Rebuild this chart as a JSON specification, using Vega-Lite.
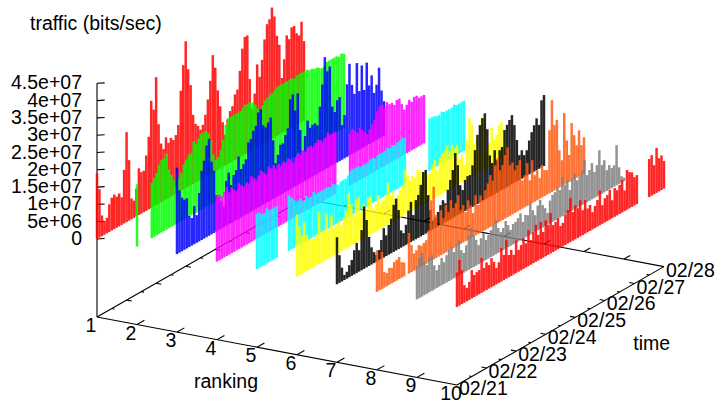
{"$schema":"https://vega.github.io/schema/vega-lite/v6.json","width":715,"height":402,"padding":0,"autosize":"none","background":"white","view":{"stroke":null},"config":{"axis":{"domain":false},"text":{"font":"Liberation Sans","fontSize":19.5,"color":"#000"}},
"datasets":{
"segs":[{"r":1,"t":0,"m":-22.54,"r2":10,"t2":0,"m2":-22.54},{"r":10,"t":0,"m":-22.54,"r2":10,"t2":168,"m2":-22.54},{"r":1,"t":0,"m":-22.54,"r2":1,"t2":168,"m2":-22.54},{"r":1,"t":168,"m":-22.54,"r2":10,"t2":168,"m2":-22.54},{"r":1,"t":0,"m":-22.54,"r2":1,"t2":0,"m2":45},
{"r":1,"t":0,"m":0,"r2":1.13,"t2":2,"m2":0},{"r":1,"t":0,"m":5,"r2":1.13,"t2":2,"m2":5},{"r":1,"t":0,"m":10,"r2":1.13,"t2":2,"m2":10},{"r":1,"t":0,"m":15,"r2":1.13,"t2":2,"m2":15},{"r":1,"t":0,"m":20,"r2":1.13,"t2":2,"m2":20},{"r":1,"t":0,"m":25,"r2":1.13,"t2":2,"m2":25},{"r":1,"t":0,"m":30,"r2":1.13,"t2":2,"m2":30},{"r":1,"t":0,"m":35,"r2":1.13,"t2":2,"m2":35},{"r":1,"t":0,"m":40,"r2":1.13,"t2":2,"m2":40},{"r":1,"t":0,"m":45,"r2":1.13,"t2":2,"m2":45},
{"r":2,"t":0,"m":-22.54,"r2":2,"t2":6,"m2":-22.54},{"r":3,"t":0,"m":-22.54,"r2":3,"t2":6,"m2":-22.54},{"r":4,"t":0,"m":-22.54,"r2":4,"t2":6,"m2":-22.54},{"r":5,"t":0,"m":-22.54,"r2":5,"t2":6,"m2":-22.54},{"r":6,"t":0,"m":-22.54,"r2":6,"t2":6,"m2":-22.54},{"r":7,"t":0,"m":-22.54,"r2":7,"t2":6,"m2":-22.54},{"r":8,"t":0,"m":-22.54,"r2":8,"t2":6,"m2":-22.54},{"r":9,"t":0,"m":-22.54,"r2":9,"t2":6,"m2":-22.54},
{"r":2,"t":168,"m":-22.54,"r2":2,"t2":173,"m2":-22.54},{"r":3,"t":168,"m":-22.54,"r2":3,"t2":173,"m2":-22.54},{"r":4,"t":168,"m":-22.54,"r2":4,"t2":173,"m2":-22.54},{"r":5,"t":168,"m":-22.54,"r2":5,"t2":173,"m2":-22.54},{"r":6,"t":168,"m":-22.54,"r2":6,"t2":173,"m2":-22.54},{"r":7,"t":168,"m":-22.54,"r2":7,"t2":173,"m2":-22.54},{"r":8,"t":168,"m":-22.54,"r2":8,"t2":173,"m2":-22.54},{"r":9,"t":168,"m":-22.54,"r2":9,"t2":173,"m2":-22.54},
{"r":10,"t":24,"m":-22.54,"r2":9.87,"t2":24,"m2":-22.54},{"r":10,"t":48,"m":-22.54,"r2":9.87,"t2":48,"m2":-22.54},{"r":10,"t":72,"m":-22.54,"r2":9.87,"t2":72,"m2":-22.54},{"r":10,"t":96,"m":-22.54,"r2":9.87,"t2":96,"m2":-22.54},{"r":10,"t":120,"m":-22.54,"r2":9.87,"t2":120,"m2":-22.54},{"r":10,"t":144,"m":-22.54,"r2":9.87,"t2":144,"m2":-22.54},
{"r":1,"t":24,"m":-22.54,"r2":1.13,"t2":24,"m2":-22.54},{"r":1,"t":48,"m":-22.54,"r2":1.13,"t2":48,"m2":-22.54},{"r":1,"t":72,"m":-22.54,"r2":1.13,"t2":72,"m2":-22.54},{"r":1,"t":96,"m":-22.54,"r2":1.13,"t2":96,"m2":-22.54},{"r":1,"t":120,"m":-22.54,"r2":1.13,"t2":120,"m2":-22.54},{"r":1,"t":144,"m":-22.54,"r2":1.13,"t2":144,"m2":-22.54},
{"r":10,"t":12,"m":-22.54,"r2":9.935,"t2":12,"m2":-22.54},{"r":10,"t":36,"m":-22.54,"r2":9.935,"t2":36,"m2":-22.54},{"r":10,"t":60,"m":-22.54,"r2":9.935,"t2":60,"m2":-22.54},{"r":10,"t":84,"m":-22.54,"r2":9.935,"t2":84,"m2":-22.54},{"r":10,"t":108,"m":-22.54,"r2":9.935,"t2":108,"m2":-22.54},{"r":10,"t":132,"m":-22.54,"r2":9.935,"t2":132,"m2":-22.54},{"r":10,"t":156,"m":-22.54,"r2":9.935,"t2":156,"m2":-22.54},
{"r":1,"t":12,"m":-22.54,"r2":1.065,"t2":12,"m2":-22.54},{"r":1,"t":36,"m":-22.54,"r2":1.065,"t2":36,"m2":-22.54},{"r":1,"t":60,"m":-22.54,"r2":1.065,"t2":60,"m2":-22.54},{"r":1,"t":84,"m":-22.54,"r2":1.065,"t2":84,"m2":-22.54},{"r":1,"t":108,"m":-22.54,"r2":1.065,"t2":108,"m2":-22.54},{"r":1,"t":132,"m":-22.54,"r2":1.065,"t2":132,"m2":-22.54},{"r":1,"t":156,"m":-22.54,"r2":1.065,"t2":156,"m2":-22.54}],
"zlabels":[{"m":0,"label":"0"},{"m":5,"label":"5e+06"},{"m":10,"label":"1e+07"},{"m":15,"label":"1.5e+07"},{"m":20,"label":"2e+07"},{"m":25,"label":"2.5e+07"},{"m":30,"label":"3e+07"},{"m":35,"label":"3.5e+07"},{"m":40,"label":"4e+07"},{"m":45,"label":"4.5e+07"}],
"rlabels":[{"r":1,"label":"1"},{"r":2,"label":"2"},{"r":3,"label":"3"},{"r":4,"label":"4"},{"r":5,"label":"5"},{"r":6,"label":"6"},{"r":7,"label":"7"},{"r":8,"label":"8"},{"r":9,"label":"9"},{"r":10,"label":"10"}],
"tlabels":[{"t":0,"label":"02/21"},{"t":24,"label":"02/22"},{"t":48,"label":"02/23"},{"t":72,"label":"02/24"},{"t":96,"label":"02/25"},{"t":120,"label":"02/26"},{"t":144,"label":"02/27"},{"t":168,"label":"02/28"}],
"titles":[{"r":4.225,"t":0,"m":-34.2,"label":"ranking"},{"r":10,"t":158,"m":-42.9,"label":"time"}],
"bars":[
{"r":1,"t":0,"m":19},{"r":1,"t":2,"m":14},{"r":1,"t":4,"m":6},{"r":1,"t":6,"m":4},{"r":1,"t":8,"m":4.5},{"r":1,"t":10,"m":8},{"r":1,"t":12,"m":9.5},{"r":1,"t":14,"m":10},{"r":1,"t":16,"m":9},{"r":1,"t":18,"m":9.5},{"r":1,"t":20,"m":8},{"r":1,"t":22,"m":15.5},{"r":1,"t":24,"m":26},{"r":1,"t":26,"m":17.5},{"r":1,"t":28,"m":6},{"r":1,"t":30,"m":5},{"r":1,"t":32,"m":8},{"r":1,"t":34,"m":13.5},{"r":1,"t":36,"m":12},{"r":1,"t":38,"m":12},{"r":1,"t":40,"m":16},{"r":1,"t":42,"m":21},{"r":1,"t":44,"m":31},{"r":1,"t":46,"m":28},{"r":1,"t":48,"m":37},{"r":1,"t":50,"m":23},{"r":1,"t":52,"m":17},{"r":1,"t":54,"m":15},{"r":1,"t":56,"m":18},{"r":1,"t":58,"m":16},{"r":1,"t":60,"m":17},{"r":1,"t":62,"m":16},{"r":1,"t":64,"m":17},{"r":1,"t":66,"m":19.5},{"r":1,"t":68,"m":29},{"r":1,"t":70,"m":36},{"r":1,"t":72,"m":42.5},{"r":1,"t":74,"m":34},{"r":1,"t":76,"m":29},{"r":1,"t":78,"m":20},{"r":1,"t":80,"m":17},{"r":1,"t":82,"m":16},{"r":1,"t":84,"m":14.5},{"r":1,"t":86,"m":15.5},{"r":1,"t":88,"m":18},{"r":1,"t":90,"m":22},{"r":1,"t":92,"m":27},{"r":1,"t":94,"m":34},{"r":1,"t":96,"m":30},{"r":1,"t":98,"m":23},{"r":1,"t":100,"m":18},{"r":1,"t":102,"m":13},{"r":1,"t":104,"m":9},{"r":1,"t":106,"m":13},{"r":1,"t":108,"m":15},{"r":1,"t":110,"m":16},{"r":1,"t":112,"m":19},{"r":1,"t":114,"m":20},{"r":1,"t":116,"m":25},{"r":1,"t":118,"m":31},{"r":1,"t":120,"m":34},{"r":1,"t":122,"m":34},{"r":1,"t":124,"m":21},{"r":1,"t":126,"m":12},{"r":1,"t":128,"m":16},{"r":1,"t":130,"m":24},{"r":1,"t":132,"m":20},{"r":1,"t":134,"m":24.5},{"r":1,"t":136,"m":30},{"r":1,"t":138,"m":34},{"r":1,"t":140,"m":35},{"r":1,"t":142,"m":38},{"r":1,"t":144,"m":35},{"r":1,"t":146,"m":29},{"r":1,"t":148,"m":26},{"r":1,"t":150,"m":16},{"r":1,"t":152,"m":21},{"r":1,"t":154,"m":27.5},{"r":1,"t":156,"m":26},{"r":1,"t":158,"m":29},{"r":1,"t":160,"m":29},{"r":1,"t":162,"m":26.5},{"r":1,"t":164,"m":25.5},{"r":1,"t":166,"m":29},{"r":1,"t":168,"m":23},
{"r":2,"t":0,"m":18},{"r":2,"t":12,"m":16},{"r":2,"t":14,"m":17},{"r":2,"t":16,"m":18},{"r":2,"t":18,"m":20},{"r":2,"t":20,"m":21},{"r":2,"t":22,"m":21},{"r":2,"t":24,"m":22},{"r":2,"t":26,"m":17},{"r":2,"t":28,"m":15},{"r":2,"t":30,"m":13},{"r":2,"t":32,"m":11},{"r":2,"t":34,"m":13},{"r":2,"t":36,"m":14},{"r":2,"t":38,"m":16},{"r":2,"t":40,"m":17},{"r":2,"t":42,"m":18},{"r":2,"t":44,"m":18},{"r":2,"t":46,"m":21},{"r":2,"t":48,"m":20},{"r":2,"t":50,"m":21},{"r":2,"t":52,"m":22},{"r":2,"t":54,"m":22},{"r":2,"t":56,"m":22},{"r":2,"t":58,"m":21},{"r":2,"t":60,"m":18.5},{"r":2,"t":62,"m":14},{"r":2,"t":64,"m":12},{"r":2,"t":66,"m":12.5},{"r":2,"t":68,"m":14},{"r":2,"t":70,"m":16.5},{"r":2,"t":72,"m":20.5},{"r":2,"t":74,"m":22},{"r":2,"t":76,"m":22},{"r":2,"t":78,"m":22},{"r":2,"t":80,"m":22},{"r":2,"t":82,"m":22},{"r":2,"t":84,"m":22},{"r":2,"t":86,"m":22.5},{"r":2,"t":88,"m":23},{"r":2,"t":90,"m":23},{"r":2,"t":92,"m":23},{"r":2,"t":94,"m":22.5},{"r":2,"t":96,"m":21.5},{"r":2,"t":98,"m":20},{"r":2,"t":100,"m":19},{"r":2,"t":102,"m":20},{"r":2,"t":104,"m":21},{"r":2,"t":106,"m":21.5},{"r":2,"t":108,"m":22},{"r":2,"t":110,"m":22},{"r":2,"t":112,"m":22.5},{"r":2,"t":114,"m":23},{"r":2,"t":116,"m":23},{"r":2,"t":118,"m":23},{"r":2,"t":120,"m":23},{"r":2,"t":122,"m":23},{"r":2,"t":124,"m":23},{"r":2,"t":126,"m":23},{"r":2,"t":128,"m":22.5},{"r":2,"t":130,"m":23},{"r":2,"t":132,"m":23},{"r":2,"t":134,"m":23},{"r":2,"t":136,"m":23},{"r":2,"t":138,"m":23},{"r":2,"t":140,"m":22.5},{"r":2,"t":142,"m":22.5},{"r":2,"t":144,"m":22},{"r":2,"t":146,"m":22},{"r":2,"t":148,"m":21.5},{"r":2,"t":150,"m":21},{"r":2,"t":152,"m":21},{"r":2,"t":154,"m":22},{"r":2,"t":156,"m":22},{"r":2,"t":158,"m":22},{"r":2,"t":160,"m":22},{"r":2,"t":162,"m":22},{"r":2,"t":164,"m":21.5},{"r":2,"t":166,"m":22},{"r":2,"t":168,"m":21.5},
{"r":3,"t":0,"m":25},{"r":3,"t":2,"m":18},{"r":3,"t":4,"m":15.5},{"r":3,"t":6,"m":14.5},{"r":3,"t":8,"m":14.5},{"r":3,"t":10,"m":9},{"r":3,"t":12,"m":8},{"r":3,"t":14,"m":11},{"r":3,"t":16,"m":8},{"r":3,"t":18,"m":14},{"r":3,"t":20,"m":20},{"r":3,"t":22,"m":22.5},{"r":3,"t":24,"m":26.5},{"r":3,"t":26,"m":28},{"r":3,"t":28,"m":21},{"r":3,"t":30,"m":18},{"r":3,"t":32,"m":10.5},{"r":3,"t":34,"m":9.5},{"r":3,"t":36,"m":8},{"r":3,"t":38,"m":6},{"r":3,"t":40,"m":13},{"r":3,"t":42,"m":15},{"r":3,"t":44,"m":11},{"r":3,"t":46,"m":13.5},{"r":3,"t":48,"m":14.5},{"r":3,"t":50,"m":18},{"r":3,"t":52,"m":14},{"r":3,"t":54,"m":15},{"r":3,"t":56,"m":16},{"r":3,"t":58,"m":20.5},{"r":3,"t":60,"m":21},{"r":3,"t":62,"m":23},{"r":3,"t":64,"m":24},{"r":3,"t":66,"m":27.5},{"r":3,"t":68,"m":28},{"r":3,"t":70,"m":23},{"r":3,"t":72,"m":22},{"r":3,"t":74,"m":23},{"r":3,"t":76,"m":24},{"r":3,"t":78,"m":17},{"r":3,"t":80,"m":10},{"r":3,"t":82,"m":12},{"r":3,"t":84,"m":14.5},{"r":3,"t":86,"m":14.5},{"r":3,"t":88,"m":16.5},{"r":3,"t":90,"m":18},{"r":3,"t":92,"m":26},{"r":3,"t":94,"m":27},{"r":3,"t":96,"m":22},{"r":3,"t":98,"m":26.5},{"r":3,"t":100,"m":15.5},{"r":3,"t":102,"m":9},{"r":3,"t":104,"m":13},{"r":3,"t":106,"m":17},{"r":3,"t":108,"m":14.5},{"r":3,"t":110,"m":15},{"r":3,"t":112,"m":15},{"r":3,"t":114,"m":14},{"r":3,"t":116,"m":19},{"r":3,"t":118,"m":25},{"r":3,"t":120,"m":32.5},{"r":3,"t":122,"m":28},{"r":3,"t":124,"m":29},{"r":3,"t":126,"m":17},{"r":3,"t":128,"m":15},{"r":3,"t":130,"m":18},{"r":3,"t":132,"m":18.5},{"r":3,"t":134,"m":10},{"r":3,"t":136,"m":12.5},{"r":3,"t":138,"m":21},{"r":3,"t":140,"m":26.5},{"r":3,"t":142,"m":20},{"r":3,"t":144,"m":17},{"r":3,"t":146,"m":25.5},{"r":3,"t":148,"m":17},{"r":3,"t":150,"m":24},{"r":3,"t":152,"m":16.5},{"r":3,"t":154,"m":24},{"r":3,"t":156,"m":17},{"r":3,"t":158,"m":19.5},{"r":3,"t":160,"m":14},{"r":3,"t":162,"m":16},{"r":3,"t":164,"m":20.5},{"r":3,"t":166,"m":13.5},{"r":3,"t":168,"m":10},
{"r":4,"t":0,"m":19},{"r":4,"t":2,"m":19},{"r":4,"t":4,"m":18},{"r":4,"t":6,"m":19},{"r":4,"t":8,"m":20},{"r":4,"t":10,"m":18},{"r":4,"t":12,"m":19},{"r":4,"t":14,"m":18},{"r":4,"t":16,"m":17},{"r":4,"t":18,"m":19},{"r":4,"t":20,"m":18},{"r":4,"t":22,"m":17},{"r":4,"t":24,"m":18},{"r":4,"t":26,"m":17},{"r":4,"t":28,"m":19},{"r":4,"t":30,"m":18},{"r":4,"t":32,"m":17},{"r":4,"t":34,"m":18},{"r":4,"t":36,"m":19},{"r":4,"t":38,"m":18},{"r":4,"t":40,"m":17},{"r":4,"t":42,"m":19},{"r":4,"t":44,"m":18},{"r":4,"t":46,"m":18.5},{"r":4,"t":48,"m":17},{"r":4,"t":50,"m":18},{"r":4,"t":52,"m":17},{"r":4,"t":54,"m":18},{"r":4,"t":56,"m":17},{"r":4,"t":58,"m":18},{"r":4,"t":60,"m":17},{"r":4,"t":62,"m":16},{"r":4,"t":64,"m":17},{"r":4,"t":66,"m":18},{"r":4,"t":68,"m":17},{"r":4,"t":70,"m":18},{"r":4,"t":72,"m":17},{"r":4,"t":74,"m":18},{"r":4,"t":76,"m":18},{"r":4,"t":78,"m":17},{"r":4,"t":80,"m":18},{"r":4,"t":82,"m":18.5},{"r":4,"t":84,"m":18},{"r":4,"t":86,"m":17},{"r":4,"t":88,"m":18},{"r":4,"t":90,"m":19},{"r":4,"t":92,"m":18},{"r":4,"t":94,"m":18},{"r":4,"t":96,"m":18},{"r":4,"t":108,"m":15},{"r":4,"t":110,"m":16},{"r":4,"t":112,"m":15},{"r":4,"t":114,"m":14},{"r":4,"t":116,"m":15},{"r":4,"t":118,"m":14},{"r":4,"t":120,"m":13},{"r":4,"t":122,"m":12},{"r":4,"t":124,"m":13},{"r":4,"t":126,"m":14},{"r":4,"t":128,"m":15},{"r":4,"t":130,"m":17},{"r":4,"t":132,"m":18},{"r":4,"t":134,"m":18},{"r":4,"t":136,"m":17},{"r":4,"t":138,"m":18},{"r":4,"t":140,"m":17},{"r":4,"t":142,"m":17},{"r":4,"t":144,"m":16},{"r":4,"t":146,"m":17},{"r":4,"t":148,"m":17},{"r":4,"t":150,"m":15},{"r":4,"t":152,"m":13},{"r":4,"t":154,"m":14},{"r":4,"t":156,"m":15},{"r":4,"t":158,"m":14},{"r":4,"t":160,"m":15},{"r":4,"t":162,"m":15},{"r":4,"t":164,"m":14},{"r":4,"t":166,"m":14},{"r":4,"t":168,"m":14},
{"r":5,"t":0,"m":16},{"r":5,"t":2,"m":16},{"r":5,"t":4,"m":15},{"r":5,"t":6,"m":15},{"r":5,"t":8,"m":16},{"r":5,"t":10,"m":15},{"r":5,"t":12,"m":15},{"r":5,"t":14,"m":15},{"r":5,"t":16,"m":15},{"r":5,"t":26,"m":16},{"r":5,"t":28,"m":15},{"r":5,"t":30,"m":14},{"r":5,"t":32,"m":13},{"r":5,"t":34,"m":13},{"r":5,"t":36,"m":13},{"r":5,"t":38,"m":12},{"r":5,"t":40,"m":13},{"r":5,"t":42,"m":12},{"r":5,"t":44,"m":12},{"r":5,"t":46,"m":13},{"r":5,"t":48,"m":12},{"r":5,"t":50,"m":12},{"r":5,"t":52,"m":12},{"r":5,"t":54,"m":12},{"r":5,"t":56,"m":12},{"r":5,"t":58,"m":12},{"r":5,"t":60,"m":11.5},{"r":5,"t":62,"m":12},{"r":5,"t":64,"m":11.5},{"r":5,"t":66,"m":11},{"r":5,"t":68,"m":11.5},{"r":5,"t":70,"m":11.5},{"r":5,"t":72,"m":11.5},{"r":5,"t":74,"m":12},{"r":5,"t":76,"m":13},{"r":5,"t":78,"m":13},{"r":5,"t":80,"m":13},{"r":5,"t":82,"m":13},{"r":5,"t":84,"m":12.5},{"r":5,"t":86,"m":12.5},{"r":5,"t":88,"m":12.5},{"r":5,"t":90,"m":12.5},{"r":5,"t":92,"m":13},{"r":5,"t":94,"m":13},{"r":5,"t":96,"m":12.5},{"r":5,"t":98,"m":13},{"r":5,"t":100,"m":13},{"r":5,"t":102,"m":13},{"r":5,"t":104,"m":13},{"r":5,"t":106,"m":13.5},{"r":5,"t":108,"m":13},{"r":5,"t":110,"m":13.5},{"r":5,"t":112,"m":13},{"r":5,"t":114,"m":13.5},{"r":5,"t":116,"m":13.5},{"r":5,"t":118,"m":14},{"r":5,"t":120,"m":13.5},{"r":5,"t":140,"m":15},{"r":5,"t":142,"m":15},{"r":5,"t":144,"m":15},{"r":5,"t":146,"m":14.5},{"r":5,"t":148,"m":14.5},{"r":5,"t":150,"m":15},{"r":5,"t":152,"m":14.5},{"r":5,"t":154,"m":14.5},{"r":5,"t":156,"m":14.5},{"r":5,"t":158,"m":14.5},{"r":5,"t":160,"m":15},{"r":5,"t":162,"m":14.5},{"r":5,"t":164,"m":14.5},{"r":5,"t":166,"m":14.5},{"r":5,"t":168,"m":14.5},
{"r":6,"t":0,"m":18},{"r":6,"t":2,"m":14},{"r":6,"t":4,"m":11},{"r":6,"t":6,"m":14.5},{"r":6,"t":8,"m":10.5},{"r":6,"t":10,"m":8.7},{"r":6,"t":12,"m":8.7},{"r":6,"t":14,"m":8},{"r":6,"t":16,"m":8.7},{"r":6,"t":18,"m":15},{"r":6,"t":20,"m":9},{"r":6,"t":22,"m":9},{"r":6,"t":24,"m":13.5},{"r":6,"t":26,"m":8},{"r":6,"t":28,"m":12},{"r":6,"t":30,"m":8},{"r":6,"t":32,"m":8.5},{"r":6,"t":34,"m":9},{"r":6,"t":36,"m":7.5},{"r":6,"t":38,"m":9.5},{"r":6,"t":40,"m":11},{"r":6,"t":42,"m":15.6},{"r":6,"t":44,"m":12},{"r":6,"t":46,"m":8.5},{"r":6,"t":48,"m":12.4},{"r":6,"t":50,"m":12.7},{"r":6,"t":52,"m":8},{"r":6,"t":54,"m":10},{"r":6,"t":56,"m":8},{"r":6,"t":58,"m":11},{"r":6,"t":60,"m":11},{"r":6,"t":62,"m":7},{"r":6,"t":64,"m":8},{"r":6,"t":66,"m":10},{"r":6,"t":68,"m":7},{"r":6,"t":70,"m":8},{"r":6,"t":72,"m":9},{"r":6,"t":74,"m":12},{"r":6,"t":76,"m":8},{"r":6,"t":78,"m":9},{"r":6,"t":80,"m":6},{"r":6,"t":82,"m":7},{"r":6,"t":84,"m":8},{"r":6,"t":86,"m":9},{"r":6,"t":88,"m":13},{"r":6,"t":90,"m":11},{"r":6,"t":92,"m":9},{"r":6,"t":94,"m":10},{"r":6,"t":96,"m":9},{"r":6,"t":98,"m":11},{"r":6,"t":100,"m":10},{"r":6,"t":102,"m":8.5},{"r":6,"t":104,"m":9},{"r":6,"t":106,"m":8},{"r":6,"t":108,"m":8},{"r":6,"t":110,"m":10},{"r":6,"t":112,"m":11},{"r":6,"t":114,"m":7.5},{"r":6,"t":116,"m":10.7},{"r":6,"t":118,"m":11.7},{"r":6,"t":120,"m":12},{"r":6,"t":122,"m":13},{"r":6,"t":124,"m":11},{"r":6,"t":126,"m":12.4},{"r":6,"t":128,"m":11},{"r":6,"t":130,"m":11.7},{"r":6,"t":132,"m":7},{"r":6,"t":134,"m":8},{"r":6,"t":136,"m":4.6},{"r":6,"t":138,"m":11.4},{"r":6,"t":140,"m":17.4},{"r":6,"t":142,"m":15},{"r":6,"t":144,"m":9},{"r":6,"t":146,"m":10.4},{"r":6,"t":148,"m":6.5},{"r":6,"t":150,"m":15.3},{"r":6,"t":152,"m":13},{"r":6,"t":154,"m":5},{"r":6,"t":156,"m":7},{"r":6,"t":158,"m":11},{"r":6,"t":160,"m":7},{"r":6,"t":162,"m":8},{"r":6,"t":164,"m":10.4},{"r":6,"t":166,"m":11},{"r":6,"t":168,"m":8},
{"r":7,"t":0,"m":13.6},{"r":7,"t":2,"m":8},{"r":7,"t":4,"m":4},{"r":7,"t":6,"m":1.5},{"r":7,"t":8,"m":2},{"r":7,"t":10,"m":3.5},{"r":7,"t":12,"m":4.6},{"r":7,"t":14,"m":7},{"r":7,"t":16,"m":8.7},{"r":7,"t":18,"m":6.2},{"r":7,"t":20,"m":11.6},{"r":7,"t":22,"m":18},{"r":7,"t":24,"m":13.7},{"r":7,"t":26,"m":8.4},{"r":7,"t":28,"m":5},{"r":7,"t":30,"m":3.2},{"r":7,"t":32,"m":2},{"r":7,"t":34,"m":3},{"r":7,"t":36,"m":5.5},{"r":7,"t":38,"m":8.5},{"r":7,"t":40,"m":6},{"r":7,"t":42,"m":8.6},{"r":7,"t":44,"m":10},{"r":7,"t":46,"m":13.6},{"r":7,"t":48,"m":15},{"r":7,"t":50,"m":11.3},{"r":7,"t":52,"m":5},{"r":7,"t":54,"m":3.8},{"r":7,"t":56,"m":5.8},{"r":7,"t":58,"m":9.5},{"r":7,"t":60,"m":11.6},{"r":7,"t":62,"m":7.4},{"r":7,"t":64,"m":11.3},{"r":7,"t":66,"m":12.4},{"r":7,"t":68,"m":14.9},{"r":7,"t":70,"m":18.2},{"r":7,"t":72,"m":18.4},{"r":7,"t":74,"m":10.7},{"r":7,"t":76,"m":6},{"r":7,"t":78,"m":2.6},{"r":7,"t":80,"m":3},{"r":7,"t":82,"m":4.2},{"r":7,"t":84,"m":5.8},{"r":7,"t":86,"m":6.8},{"r":7,"t":88,"m":5.5},{"r":7,"t":90,"m":9},{"r":7,"t":92,"m":11.4},{"r":7,"t":94,"m":13.9},{"r":7,"t":96,"m":18.4},{"r":7,"t":98,"m":14.5},{"r":7,"t":100,"m":8.3},{"r":7,"t":102,"m":6.5},{"r":7,"t":104,"m":9},{"r":7,"t":106,"m":9.7},{"r":7,"t":108,"m":9.6},{"r":7,"t":110,"m":12},{"r":7,"t":112,"m":16},{"r":7,"t":114,"m":20},{"r":7,"t":116,"m":22.4},{"r":7,"t":118,"m":24},{"r":7,"t":120,"m":25},{"r":7,"t":122,"m":20},{"r":7,"t":124,"m":12},{"r":7,"t":126,"m":9.4},{"r":7,"t":128,"m":12.7},{"r":7,"t":130,"m":9.4},{"r":7,"t":132,"m":11.9},{"r":7,"t":134,"m":12.4},{"r":7,"t":136,"m":16.9},{"r":7,"t":138,"m":18},{"r":7,"t":140,"m":19},{"r":7,"t":142,"m":20},{"r":7,"t":144,"m":16.7},{"r":7,"t":146,"m":12},{"r":7,"t":148,"m":7.2},{"r":7,"t":150,"m":8.2},{"r":7,"t":152,"m":6.4},{"r":7,"t":154,"m":7.4},{"r":7,"t":156,"m":9.8},{"r":7,"t":158,"m":11.8},{"r":7,"t":160,"m":13.4},{"r":7,"t":162,"m":15},{"r":7,"t":164,"m":12.7},{"r":7,"t":166,"m":19.4},{"r":7,"t":168,"m":20.5},
{"r":8,"t":0,"m":12},{"r":8,"t":2,"m":9},{"r":8,"t":4,"m":10.7},{"r":8,"t":6,"m":4.5},{"r":8,"t":8,"m":3.8},{"r":8,"t":10,"m":4.9},{"r":8,"t":12,"m":4.5},{"r":8,"t":14,"m":5.8},{"r":8,"t":16,"m":6},{"r":8,"t":18,"m":6.4},{"r":8,"t":20,"m":4.5},{"r":8,"t":22,"m":4},{"r":8,"t":26,"m":11.7},{"r":8,"t":28,"m":7.8},{"r":8,"t":30,"m":5},{"r":8,"t":32,"m":5.5},{"r":8,"t":34,"m":6.6},{"r":8,"t":36,"m":6},{"r":8,"t":38,"m":6.4},{"r":8,"t":40,"m":6.8},{"r":8,"t":42,"m":9.3},{"r":8,"t":44,"m":17.5},{"r":8,"t":46,"m":21},{"r":8,"t":48,"m":12.4},{"r":8,"t":50,"m":9},{"r":8,"t":52,"m":13},{"r":8,"t":54,"m":10.3},{"r":8,"t":56,"m":13.7},{"r":8,"t":58,"m":11.3},{"r":8,"t":60,"m":14.3},{"r":8,"t":62,"m":11.6},{"r":8,"t":64,"m":12.6},{"r":8,"t":66,"m":14.5},{"r":8,"t":68,"m":9.8},{"r":8,"t":70,"m":10.8},{"r":8,"t":72,"m":8.4},{"r":8,"t":74,"m":11.4},{"r":8,"t":76,"m":9.5},{"r":8,"t":78,"m":6.9},{"r":8,"t":80,"m":11.7},{"r":8,"t":82,"m":8.4},{"r":8,"t":84,"m":10.8},{"r":8,"t":86,"m":9},{"r":8,"t":88,"m":11.5},{"r":8,"t":90,"m":13},{"r":8,"t":92,"m":15},{"r":8,"t":94,"m":13},{"r":8,"t":96,"m":17},{"r":8,"t":98,"m":18.7},{"r":8,"t":100,"m":14.8},{"r":8,"t":102,"m":15.9},{"r":8,"t":104,"m":18.4},{"r":8,"t":106,"m":20.2},{"r":8,"t":108,"m":14.6},{"r":8,"t":110,"m":15},{"r":8,"t":112,"m":12.4},{"r":8,"t":114,"m":13.4},{"r":8,"t":116,"m":14.5},{"r":8,"t":118,"m":8.2},{"r":8,"t":120,"m":9.3},{"r":8,"t":122,"m":12.4},{"r":8,"t":124,"m":7},{"r":8,"t":126,"m":12.4},{"r":8,"t":128,"m":7.7},{"r":8,"t":130,"m":8.7},{"r":8,"t":132,"m":6},{"r":8,"t":134,"m":9.4},{"r":8,"t":136,"m":7.5},{"r":8,"t":138,"m":7.1},{"r":8,"t":140,"m":18.2},{"r":8,"t":142,"m":26.5},{"r":8,"t":144,"m":18.9},{"r":8,"t":146,"m":20},{"r":8,"t":148,"m":10.8},{"r":8,"t":150,"m":7.5},{"r":8,"t":152,"m":20.7},{"r":8,"t":154,"m":12.4},{"r":8,"t":156,"m":7.8},{"r":8,"t":158,"m":16.6},{"r":8,"t":160,"m":12.7},{"r":8,"t":162,"m":9.4},{"r":8,"t":164,"m":13.3},{"r":8,"t":166,"m":8.6},{"r":8,"t":168,"m":10.5},
{"r":9,"t":0,"m":9.4},{"r":9,"t":2,"m":11.6},{"r":9,"t":4,"m":12.6},{"r":9,"t":6,"m":9.6},{"r":9,"t":8,"m":8.3},{"r":9,"t":10,"m":10},{"r":9,"t":12,"m":10.4},{"r":9,"t":14,"m":7},{"r":9,"t":16,"m":5.2},{"r":9,"t":18,"m":6.3},{"r":9,"t":20,"m":7.9},{"r":9,"t":22,"m":6.3},{"r":9,"t":24,"m":7.9},{"r":9,"t":26,"m":9},{"r":9,"t":28,"m":9.4},{"r":9,"t":30,"m":7.6},{"r":9,"t":32,"m":9.2},{"r":9,"t":34,"m":10.2},{"r":9,"t":36,"m":6.9},{"r":9,"t":38,"m":5.7},{"r":9,"t":40,"m":7.5},{"r":9,"t":42,"m":10},{"r":9,"t":44,"m":11.7},{"r":9,"t":46,"m":9.2},{"r":9,"t":48,"m":7.4},{"r":9,"t":50,"m":5.5},{"r":9,"t":52,"m":7.1},{"r":9,"t":54,"m":8.2},{"r":9,"t":56,"m":5.8},{"r":9,"t":58,"m":6.8},{"r":9,"t":60,"m":7.8},{"r":9,"t":62,"m":8.9},{"r":9,"t":64,"m":9.9},{"r":9,"t":66,"m":7.2},{"r":9,"t":68,"m":5.6},{"r":9,"t":70,"m":6.4},{"r":9,"t":72,"m":8},{"r":9,"t":74,"m":6.4},{"r":9,"t":76,"m":4.6},{"r":9,"t":78,"m":5.9},{"r":9,"t":80,"m":6.1},{"r":9,"t":82,"m":6.8},{"r":9,"t":84,"m":7.8},{"r":9,"t":86,"m":4.9},{"r":9,"t":88,"m":6.5},{"r":9,"t":90,"m":6},{"r":9,"t":92,"m":9.1},{"r":9,"t":94,"m":6.6},{"r":9,"t":96,"m":4.8},{"r":9,"t":98,"m":7.2},{"r":9,"t":100,"m":8.4},{"r":9,"t":102,"m":6.5},{"r":9,"t":104,"m":5.2},{"r":9,"t":106,"m":3.4},{"r":9,"t":108,"m":6.6},{"r":9,"t":110,"m":7.8},{"r":9,"t":112,"m":8.2},{"r":9,"t":114,"m":9.2},{"r":9,"t":116,"m":8},{"r":9,"t":118,"m":11.3},{"r":9,"t":120,"m":8.6},{"r":9,"t":122,"m":9.6},{"r":9,"t":124,"m":6.4},{"r":9,"t":126,"m":9.4},{"r":9,"t":128,"m":10.4},{"r":9,"t":130,"m":8},{"r":9,"t":132,"m":9},{"r":9,"t":134,"m":10},{"r":9,"t":136,"m":12.6},{"r":9,"t":138,"m":7.8},{"r":9,"t":140,"m":8.9},{"r":9,"t":142,"m":10.5},{"r":9,"t":144,"m":7.5},{"r":9,"t":146,"m":9.1},{"r":9,"t":148,"m":13},{"r":9,"t":150,"m":8.3},{"r":9,"t":152,"m":9.3},{"r":9,"t":154,"m":6},{"r":9,"t":156,"m":7.1},{"r":9,"t":158,"m":5.8},{"r":9,"t":160,"m":6.2},{"r":9,"t":162,"m":11.6},{"r":9,"t":164,"m":4.8},{"r":9,"t":166,"m":1.8},{"r":9,"t":168,"m":1},
{"r":10,"t":0,"m":10},{"r":10,"t":2,"m":13.2},{"r":10,"t":4,"m":9.8},{"r":10,"t":6,"m":5.1},{"r":10,"t":8,"m":3.9},{"r":10,"t":10,"m":5.2},{"r":10,"t":12,"m":8.2},{"r":10,"t":14,"m":6.4},{"r":10,"t":16,"m":6.8},{"r":10,"t":18,"m":7},{"r":10,"t":20,"m":10.1},{"r":10,"t":22,"m":6.8},{"r":10,"t":24,"m":8},{"r":10,"t":26,"m":6.8},{"r":10,"t":28,"m":8.4},{"r":10,"t":30,"m":6.9},{"r":10,"t":32,"m":4.8},{"r":10,"t":34,"m":6},{"r":10,"t":36,"m":9.7},{"r":10,"t":38,"m":7.3},{"r":10,"t":40,"m":11.2},{"r":10,"t":42,"m":6.5},{"r":10,"t":44,"m":7.5},{"r":10,"t":46,"m":5.7},{"r":10,"t":48,"m":9.5},{"r":10,"t":50,"m":6.3},{"r":10,"t":52,"m":7.3},{"r":10,"t":54,"m":8.9},{"r":10,"t":56,"m":7},{"r":10,"t":58,"m":10.4},{"r":10,"t":60,"m":7.1},{"r":10,"t":62,"m":9},{"r":10,"t":64,"m":10.7},{"r":10,"t":66,"m":7.4},{"r":10,"t":68,"m":10.7},{"r":10,"t":70,"m":7.4},{"r":10,"t":72,"m":10.4},{"r":10,"t":74,"m":8.6},{"r":10,"t":76,"m":11.7},{"r":10,"t":78,"m":7.8},{"r":10,"t":80,"m":8.3},{"r":10,"t":82,"m":9},{"r":10,"t":84,"m":6.3},{"r":10,"t":86,"m":6.8},{"r":10,"t":88,"m":8.7},{"r":10,"t":90,"m":9.7},{"r":10,"t":92,"m":12.8},{"r":10,"t":94,"m":8.3},{"r":10,"t":96,"m":9.8},{"r":10,"t":98,"m":8.6},{"r":10,"t":100,"m":10.5},{"r":10,"t":102,"m":7.2},{"r":10,"t":104,"m":9.7},{"r":10,"t":106,"m":6.9},{"r":10,"t":108,"m":7.5},{"r":10,"t":110,"m":5},{"r":10,"t":112,"m":6.4},{"r":10,"t":114,"m":7.7},{"r":10,"t":116,"m":10.1},{"r":10,"t":118,"m":5.4},{"r":10,"t":120,"m":7},{"r":10,"t":122,"m":7.5},{"r":10,"t":124,"m":8.6},{"r":10,"t":126,"m":5.2},{"r":10,"t":128,"m":8.3},{"r":10,"t":130,"m":7.3},{"r":10,"t":132,"m":8.4},{"r":10,"t":134,"m":9.4},{"r":10,"t":136,"m":6},{"r":10,"t":138,"m":11.5},{"r":10,"t":140,"m":10.5},{"r":10,"t":142,"m":10},{"r":10,"t":144,"m":8.2},{"r":10,"t":146,"m":8.4},{"r":10,"t":156,"m":11},{"r":10,"t":158,"m":11.7},{"r":10,"t":160,"m":8.4},{"r":10,"t":162,"m":13},{"r":10,"t":164,"m":9.6},{"r":10,"t":166,"m":10},{"r":10,"t":168,"m":8}
]},
"layer":[
{"data":{"name":"segs"},"transform":[{"calculate":"97+(datum.r-1)*40+datum.t*1.232","as":"px"},{"calculate":"239+(datum.r-1)*7.55-datum.t*0.7042-datum.m*3.46","as":"py"},{"calculate":"97+(datum.r2-1)*40+datum.t2*1.232","as":"px2"},{"calculate":"239+(datum.r2-1)*7.55-datum.t2*0.7042-datum.m2*3.46","as":"py2"}],"mark":{"type":"rule","color":"#000","strokeWidth":1.1},"encoding":{"x":{"field":"px","type":"quantitative","scale":{"domain":[0,715],"nice":false,"zero":false},"axis":null},"y":{"field":"py","type":"quantitative","scale":{"domain":[402,0],"nice":false,"zero":false},"axis":null},"x2":{"field":"px2"},"y2":{"field":"py2"}}},
{"data":{"name":"bars"},"transform":[{"calculate":"97+(datum.r-1)*40+datum.t*1.232","as":"px"},{"calculate":"239+(datum.r-1)*7.55-datum.t*0.7042","as":"py"},{"calculate":"datum.py-datum.m*3.46","as":"py2"}],"mark":{"type":"rule","strokeWidth":2.5,"opacity":0.85},"encoding":{"x":{"field":"px","type":"quantitative","axis":null},"y":{"field":"py","type":"quantitative","axis":null},"y2":{"field":"py2"},"color":{"field":"r","type":"ordinal","legend":null,"scale":{"domain":[1,2,3,4,5,6,7,8,9,10],"range":["#ff0000","#00ff00","#0000ff","#ff00ff","#00ffff","#ffff00","#000000","#ff5a10","#808080","#ff0000"]}}}},
{"data":{"name":"zlabels"},"transform":[{"calculate":"82","as":"px"},{"calculate":"239-datum.m*3.46","as":"py"}],"mark":{"type":"text","align":"right","baseline":"middle"},"encoding":{"x":{"field":"px","type":"quantitative","axis":null},"y":{"field":"py","type":"quantitative","axis":null},"text":{"field":"label"}}},
{"data":{"name":"rlabels"},"transform":[{"calculate":"97+(datum.r-1)*40","as":"px"},{"calculate":"317+(datum.r-1)*7.55","as":"py"}],"mark":{"type":"text","align":"center","baseline":"middle","dx":-6,"dy":9},"encoding":{"x":{"field":"px","type":"quantitative","axis":null},"y":{"field":"py","type":"quantitative","axis":null},"text":{"field":"label"}}},
{"data":{"name":"tlabels"},"transform":[{"calculate":"457+datum.t*1.232","as":"px"},{"calculate":"385-datum.t*0.7042","as":"py"}],"mark":{"type":"text","align":"left","baseline":"middle","dx":2,"dy":4},"encoding":{"x":{"field":"px","type":"quantitative","axis":null},"y":{"field":"py","type":"quantitative","axis":null},"text":{"field":"label"}}},
{"data":{"name":"titles"},"transform":[{"calculate":"97+(datum.r-1)*40+datum.t*1.232","as":"px"},{"calculate":"239+(datum.r-1)*7.55-datum.t*0.7042-datum.m*3.46","as":"py"}],"mark":{"type":"text","align":"center","baseline":"middle"},"encoding":{"x":{"field":"px","type":"quantitative","axis":null},"y":{"field":"py","type":"quantitative","axis":null},"text":{"field":"label"}}},
{"data":{"values":[{"label":"traffic (bits/sec)","r":1,"t":0,"m":62.1}]},"transform":[{"calculate":"97+(datum.r-1)*40+datum.t*1.232","as":"px"},{"calculate":"239+(datum.r-1)*7.55-datum.t*0.7042-datum.m*3.46","as":"py"}],"mark":{"type":"text","align":"left","baseline":"middle","dx":-67},"encoding":{"x":{"field":"px","type":"quantitative","axis":null},"y":{"field":"py","type":"quantitative","axis":null},"text":{"field":"label"}}}
]}
